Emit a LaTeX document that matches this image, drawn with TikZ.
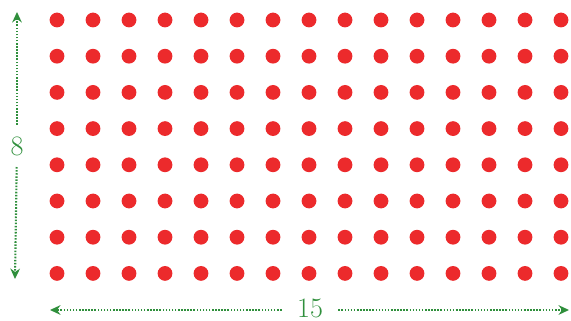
\documentclass[tikz,border=0pt]{standalone}
\usepackage{xcolor}
\usepackage{tikz}
\usetikzlibrary{arrows.meta, positioning, calc}
\definecolor{dotred}{HTML}{EC2A2C}
\definecolor{sizegreen}{HTML}{2F8F3C}
\tikzset{
  reddot/.style={
    circle, fill=dotred, inner sep=0pt, minimum size=0.37cm
  },
  sizearrow/.style={
    -{Stealth[length=2.6mm, width=2.4mm]}, line width=1.5pt,
    dash pattern=on 1.1pt off 1.1pt, color=sizegreen
  },
  sizelabel/.style={
    text=sizegreen, inner sep=0pt,
    font=\fontsize{20}{22}\selectfont
  },
}
\begin{document}
\begin{tikzpicture}[x=0.025cm, y=-0.025cm]
  \useasboundingbox (0,0) rectangle (571,321);

  % -- grid of dots: 8 rows, 15 columns --
  \foreach \r in {0,...,7} {
    \foreach \c in {0,...,14} {
      \node[reddot] (dot-\r-\c) at (57+36*\c, 20+36.2*\r) {};
    }
  }

  % -- size labels --
  \node[sizelabel, inner ysep=0.28cm] (rows) at (17,146) {8};
  \node[sizelabel, inner xsep=0.38cm] (cols) at (310,308) {15};

  \coordinate (rowstop) at (17,12);
  \coordinate (rowsbot) at (15,279);
  \coordinate (colsleft) at (50,310);
  \coordinate (colsright) at (569,310);

  % -- arrows --
  \draw[sizearrow] (rows) -- (rowstop);
  \draw[sizearrow] (rows) -- (rowsbot);
  \draw[sizearrow] (cols.west |- colsleft) -- (colsleft);
  \draw[sizearrow] (cols.east |- colsright) -- (colsright);
\end{tikzpicture}
\end{document}
